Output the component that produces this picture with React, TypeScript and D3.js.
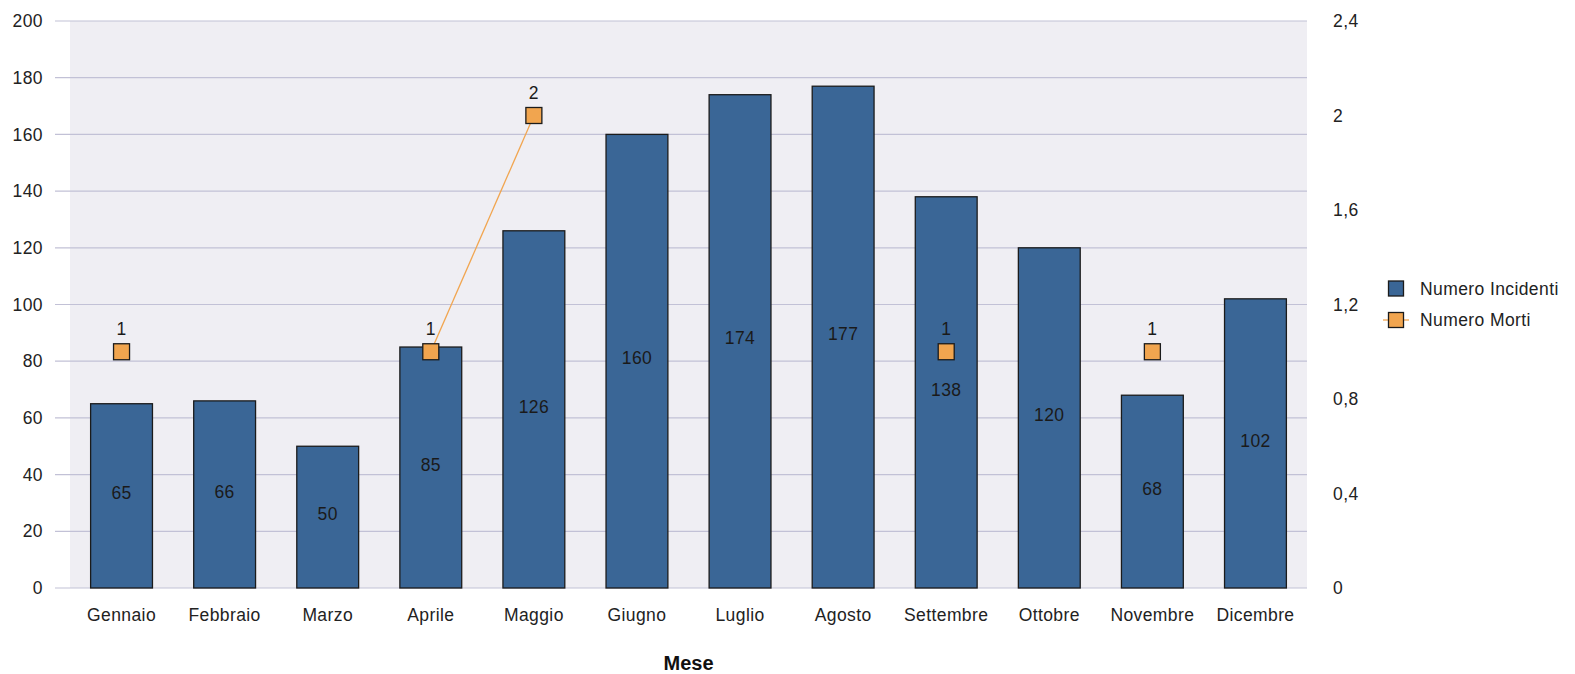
import React from "react";
import * as d3 from "d3";

const months = ["Gennaio", "Febbraio", "Marzo", "Aprile", "Maggio", "Giugno", "Luglio", "Agosto", "Settembre", "Ottobre", "Novembre", "Dicembre"];
const incidenti = [65, 66, 50, 85, 126, 160, 174, 177, 138, 120, 68, 102];
const morti: (number | null)[] = [1, null, null, 1, 2, null, null, null, 1, null, 1, null];
const leftTicks = [0, 20, 40, 60, 80, 100, 120, 140, 160, 180, 200];
const rightTicks = [0, 0.4, 0.8, 1.2, 1.6, 2, 2.4];
const seriesNames = ["Numero Incidenti", "Numero Morti"];
const xTitle = "Mese";

const W = 1575, H = 674;
const L = 70, R = 1307, T = 21, B = 588;
const FONT = "'Liberation Sans', Arial, sans-serif";
const BAR = "#3a6696";
const ORANGE = "#f1a54f";
const GRID = "#c2c1d6";
const FS = 17.5;
const LS = 0.4;

export default function App() {
  const x = d3.scaleBand<string>().domain(months).range([L, R]).paddingInner(0.4).paddingOuter(0.2);
  const y = d3.scaleLinear().domain([0, 200]).range([B, T]);
  const y2 = d3.scaleLinear().domain([0, 2.4]).range([B, T]);
  const fmt = (v: number) => String(v).replace(".", ",");
  const line = d3.line<number | null>()
    .defined((d) => d != null)
    .x((_, i) => (x(months[i]) as number) + x.bandwidth() / 2)
    .y((d) => y2(d as number));
  const sq = 16;
  return (
    <svg width={W} height={H} style={{ position: "absolute", left: 0, top: 0, fontFamily: FONT }}>
      <rect x={0} y={0} width={W} height={H} fill="#fff" />
      <rect x={L} y={T} width={R - L} height={B - T} fill="#efeef3" />
      {leftTicks.map((t) => (
        <g key={t}>
          <line x1={55} x2={R} y1={y(t)} y2={y(t)} stroke={GRID} strokeWidth={1.2} />
          <text x={43} y={y(t)} dy="0.35em" textAnchor="end" fontSize={FS} letterSpacing={LS} fill="#222">{t}</text>
        </g>
      ))}
      {rightTicks.map((t) => (
        <text key={t} x={1333} y={y2(t)} dy="0.35em" textAnchor="start" fontSize={FS} letterSpacing={LS} fill="#222">{fmt(t)}</text>
      ))}
      {incidenti.map((v, i) => {
        const bx = x(months[i]) as number;
        return (
          <g key={i}>
            <rect x={bx} y={y(v)} width={x.bandwidth()} height={B - y(v)} fill={BAR} stroke="#1b1b1b" strokeWidth={1.3} />
            <text x={bx + x.bandwidth() / 2} y={(y(v) + B) / 2 - 3} dy="0.35em" textAnchor="middle" fontSize={FS} letterSpacing={LS} fill="#1a1a1a">{v}</text>
          </g>
        );
      })}
      <path d={line(morti) || ""} fill="none" stroke={ORANGE} strokeWidth={1.3} />
      {morti.map((v, i) => {
        if (v == null) return null;
        const cx = (x(months[i]) as number) + x.bandwidth() / 2;
        const cy = y2(v);
        return (
          <g key={i}>
            <rect x={cx - sq / 2} y={cy - sq / 2} width={sq} height={sq} fill={ORANGE} stroke="#1b1b1b" strokeWidth={1.3} />
            <text x={cx} y={cy - 22.5} dy="0.35em" textAnchor="middle" fontSize={FS} letterSpacing={LS} fill="#1a1a1a">{v}</text>
          </g>
        );
      })}
      {months.map((m) => (
        <text key={m} x={(x(m) as number) + x.bandwidth() / 2} y={615} dy="0.35em" textAnchor="middle" fontSize={FS} letterSpacing={LS} fill="#222">{m}</text>
      ))}
      <text x={(L + R) / 2} y={662.5} dy="0.35em" textAnchor="middle" fontSize={20} fontWeight="bold" fill="#111">{xTitle}</text>
      <g>
        <rect x={1388.5} y={281} width={15} height={15} fill={BAR} stroke="#1b1b1b" strokeWidth={1.3} />
        <text x={1420} y={288.5} dy="0.35em" fontSize={FS} letterSpacing={LS} fill="#222">{seriesNames[0]}</text>
        <line x1={1383} x2={1409} y1={320} y2={320} stroke={ORANGE} strokeWidth={1.3} />
        <rect x={1388.5} y={312.5} width={15} height={15} fill={ORANGE} stroke="#1b1b1b" strokeWidth={1.3} />
        <text x={1420} y={320} dy="0.35em" fontSize={FS} letterSpacing={LS} fill="#222">{seriesNames[1]}</text>
      </g>
    </svg>
  );
}
